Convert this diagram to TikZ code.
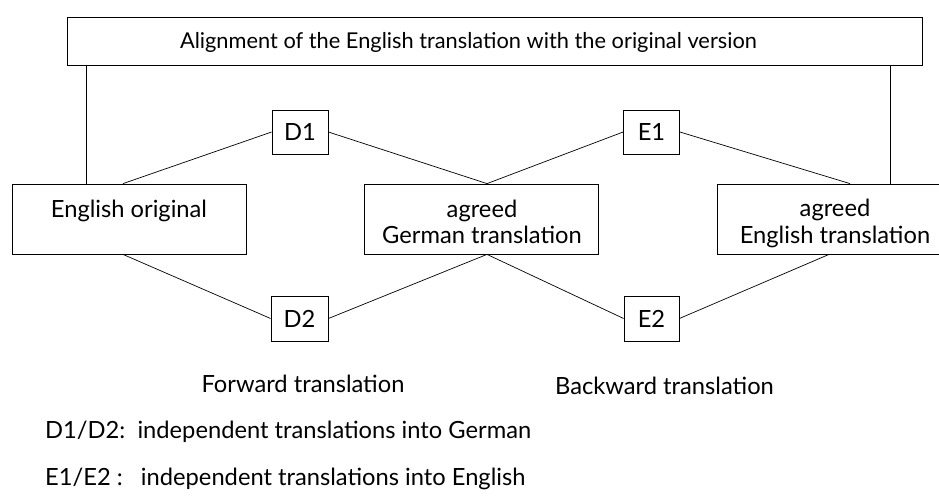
\documentclass[tikz,border=0pt]{standalone}
\usepackage{fontspec}
\setmainfont{Lato}
\begin{document}
\begin{tikzpicture}[x=1pt,y=-1pt,
  txt/.style={inner sep=0pt,font=\fontsize{23.7}{26}\selectfont},
  box/.style={draw,line width=0.8pt,inner sep=0pt,minimum width=234pt,minimum height=70pt},
  tag/.style={draw,line width=0.8pt,inner sep=0pt,minimum width=56pt,minimum height=44pt,
              font=\fontsize{23.7}{26}\selectfont},
  link/.style={line width=0.7pt}]
\useasboundingbox (0,0) rectangle (939,498);
\clip (0,0) rectangle (939,498);

% headline box
\node[box,minimum width=855pt,minimum height=48pt] (top) at (494.5,41) {};
\node[txt,anchor=base,font=\fontsize{21.8}{26}\selectfont] (toptxt) at (468.5,48)
  {Alignment of the English translation with the original version};

% the three versions
\node[box] (eo) at (129,219) {};
\node[box] (gt) at (481,219) {};
\node[box] (et) at (834,219) {};
\node[txt,anchor=base] (eotxt) at (129,217) {English original};
\node[txt,anchor=base] (gt1) at (482,217) {agreed};
\node[txt,anchor=base] (gt2) at (482,243) {German translation};
\node[txt,anchor=base] (et1) at (835,216) {agreed};
\node[txt,anchor=base] (et2) at (835,243) {English translation};

% independent translations
\node[tag] (d1) at (300,132) {D1};
\node[tag] (e1) at (651.5,132) {E1};
\node[tag,minimum height=45pt,minimum width=57pt] (d2) at (299.5,318.5) {D2};
\node[tag,minimum height=45pt,minimum width=55pt] (e2) at (651.5,318.5) {E2};

% connectors
\draw[link] ([xshift=-43pt]eo.north) -- ([xshift=-43pt]eo.north |- top.south);
\draw[link] ([xshift=56pt]et.north) -- ([xshift=56pt]et.north |- top.south);
\draw[link] (d1.west) -- ([xshift=-6pt]eo.north);
\draw[link] (d1.east) -- ([xshift=6pt]gt.north);
\draw[link] (e1.west) -- ([xshift=6pt]gt.north);
\draw[link] (e1.east) -- ([xshift=16pt]et.north);
\draw[link] ([xshift=-6pt]eo.south) -- (d2.west);
\draw[link] ([xshift=6pt]gt.south) -- (d2.east);
\draw[link] ([xshift=6pt]gt.south) -- (e2.west);
\draw[link] ([xshift=-5pt]et.south) -- (e2.east);

% captions and legend
\node[txt,anchor=base] (fwd) at (303,392) {Forward translation};
\node[txt,anchor=base] (bwd) at (664.5,394) {Backward translation};
\node[txt,anchor=base west] (leg1) at (45,438)
  {D1/D2:\ \ independent translations into German};
\node[txt,anchor=base west] (leg2) at (45,485)
  {E1/E2 :\ \ \ independent translations into English};
\end{tikzpicture}
\end{document}
